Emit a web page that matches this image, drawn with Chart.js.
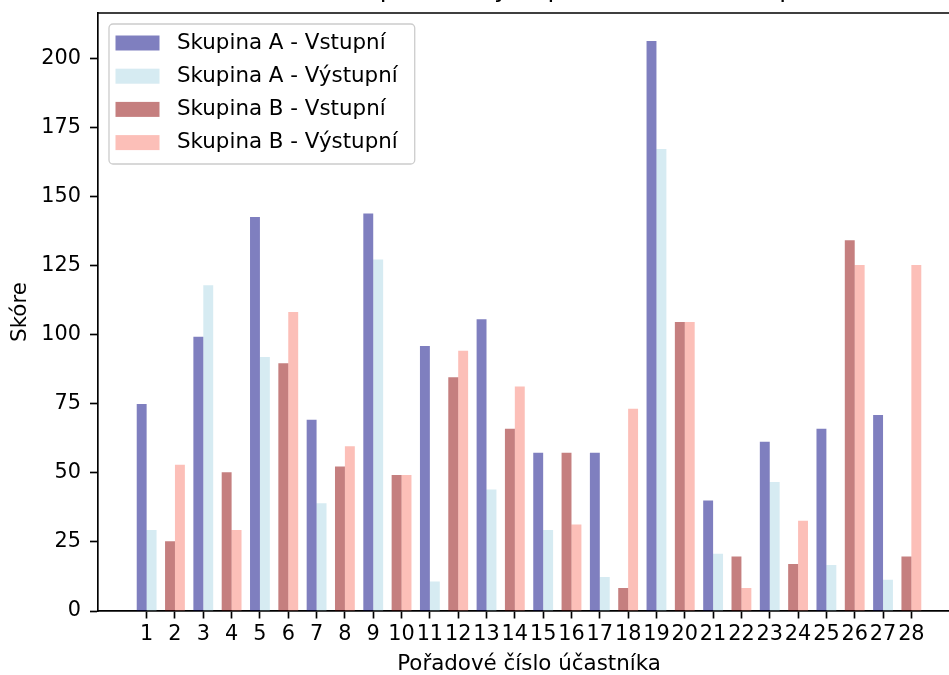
<!DOCTYPE html>
<html lang="cs">
<head>
<meta charset="utf-8" />
<title>Skóre účastníků</title>
<script src="https://cdn.jsdelivr.net/npm/chart.js@4.4.1/dist/chart.umd.min.js"></script>
<style>
  html, body { margin: 0; padding: 0; background: #fff; overflow: hidden; }
  /* figure is cropped at the top and right in the reference */
  .wrap { position: absolute; left: 0; top: -35px; width: 980px; height: 715px; }
</style>
</head>
<body>
<div class="wrap"><canvas id="chart" width="980" height="715"></canvas></div>
<script>
// participant numbers (x axis)
const participants = [1, 2, 3, 4, 5, 6, 7, 8, 9, 10, 11, 12, 13, 14,
                      15, 16, 17, 18, 19, 20, 21, 22, 23, 24, 25, 26, 27, 28];

// group A = odd participants, group B = even participants
const groupAIn  = [75, null, 99.3, null, 142.7, null, 69.3, null, 144, null, 96, null, 105.7, null,
                   57.3, null, 57.3, null, 206.5, null, 40, null, 61.3, null, 66, null, 71, null];
const groupAOut = [29.3, null, 118, null, 92, null, 39, null, 127.3, null, 10.7, null, 44, null,
                   29.3, null, 12.3, null, 167.3, null, 20.7, null, 46.7, null, 16.7, null, 11.3, null];
const groupBIn  = [null, 25.3, null, 50.3, null, 89.7, null, 52.3, null, 49.3, null, 84.7, null, 66,
                   null, 57.3, null, 8.3, null, 104.7, null, 19.7, null, 17, null, 134.3, null, 19.7];
const groupBOut = [null, 53, null, 29.3, null, 108.3, null, 59.7, null, 49.3, null, 94.3, null, 81.3,
                   null, 31.3, null, 73.3, null, 104.7, null, 8.3, null, 32.7, null, 125.3, null, 125.3];

const seriesNames = ["Skupina A - Vstupní", "Skupina A - Výstupní",
                     "Skupina B - Vstupní", "Skupina B - Výstupní"];
const yTicks = [0, 25, 50, 75, 100, 125, 150, 175, 200];

const FONT = "DejaVu Sans";
const FS = 20.8;      // tick labels
const FS_TXT = 21.4;  // legend + axis titles (matplotlib renders these a bit wider)

// top + right spine (left/bottom come from the axis borders)
const frame = {
    id: "frame",
    afterDatasetsDraw(chart) {
        const { ctx, chartArea: a } = chart;
        ctx.save();
        ctx.strokeStyle = "#000";
        ctx.lineWidth = 1.67;
        ctx.beginPath();
        ctx.moveTo(a.left, a.top);
        ctx.lineTo(a.right, a.top);
        ctx.lineTo(a.right, a.bottom);
        ctx.stroke();
        ctx.restore();
    },
};

// matplotlib-like legend box in the upper left corner of the axes
const legendBox = {
    id: "legendBox",
    afterDraw(chart) {
        const { ctx, chartArea: a, data } = chart;
        ctx.save();
        ctx.font = `${FS_TXT}px "${FONT}"`;
        const textW = Math.max(...data.datasets.map((d) => ctx.measureText(d.label).width));
        const x0 = a.left + 11.5, y0 = a.top + 11;
        const w = 68 + textW + 17, rowH = 33.2, h = 140;
        ctx.beginPath();
        ctx.roundRect(x0, y0, w, h, 4);
        ctx.fillStyle = "rgba(255,255,255,0.8)";
        ctx.fill();
        ctx.strokeStyle = "#cccccc";
        ctx.lineWidth = 1.3;
        ctx.stroke();
        data.datasets.forEach((d, i) => {
            const cy = y0 + 19 + i * rowH;
            ctx.fillStyle = d.backgroundColor;
            ctx.fillRect(x0 + 6.5, cy - 7.5, 44, 15);
            ctx.fillStyle = "#000";
            ctx.textBaseline = "middle";
            ctx.fillText(d.label, x0 + 68, cy);
        });
        ctx.restore();
    },
};

Chart.defaults.font.family = FONT;
Chart.defaults.color = "#000";

new Chart(document.getElementById("chart").getContext("2d"), {
    type: "bar",
    data: {
        labels: participants,
        datasets: [
            { label: seriesNames[0], data: groupAIn, backgroundColor: "rgba(0,0,128,0.5)" },
            { label: seriesNames[1], data: groupAOut, backgroundColor: "rgba(173,216,230,0.5)" },
            { label: seriesNames[2], data: groupBIn, backgroundColor: "rgba(139,0,0,0.5)" },
            { label: seriesNames[3], data: groupBOut, backgroundColor: "rgba(250,128,114,0.5)" },
        ],
    },
    options: {
        responsive: false,
        animation: false,
        datasets: {
            bar: { skipNull: true, categoryPercentage: 0.7, barPercentage: 1.0, borderWidth: 0 },
        },
        layout: { padding: { left: 0, right: 19.5, top: 0, bottom: 0 } },
        plugins: {
            legend: { display: false },
            tooltip: { enabled: false },
            title: {
                display: true,
                fullSize: false,
                text: "Porovnání vstupních a výstupních skóre ve skupinách",
                font: { size: 25, weight: "normal" },
                color: "#000",
                padding: { top: 10.3, bottom: 7.7 },
            },
        },
        scales: {
            x: {
                type: "linear",
                min: -0.735,
                max: 29.735,
                offset: false,
                afterBuildTicks: (axis) => {
                    axis.ticks = participants.map((v) => ({ value: v }));
                },
                afterFit: (axis) => {
                    axis.height = 715 - 48 - 598;
                },
                ticks: {
                    autoSkip: false,
                    maxRotation: 0,
                    minRotation: 0,
                    padding: 4,
                    font: { size: FS },
                    color: "#000",
                },
                grid: {
                    offset: false,
                    drawOnChartArea: false,
                    tickLength: 7.5,
                    tickWidth: 1.67,
                    tickColor: "#000",
                },
                border: { display: true, color: "#000", width: 1.67 },
                title: {
                    display: true,
                    text: "Pořadové číslo účastníka",
                    font: { size: FS_TXT },
                    color: "#000",
                    padding: { top: 0, bottom: 3 },
                },
            },
            y: {
                min: 0,
                max: 216.6,
                afterBuildTicks: (axis) => {
                    axis.ticks = yTicks.map((v) => ({ value: v }));
                },
                afterFit: (axis) => {
                    axis.width = 97.5;
                },
                ticks: {
                    padding: 9,
                    font: { size: FS },
                    color: "#000",
                },
                grid: {
                    drawOnChartArea: false,
                    tickLength: 7.5,
                    tickWidth: 1.67,
                    tickColor: "#000",
                },
                border: { display: true, color: "#000", width: 1.67 },
                title: {
                    display: true,
                    text: "Skóre",
                    font: { size: FS_TXT },
                    color: "#000",
                    padding: { top: 7.5, bottom: 0 },
                },
            },
        },
    },
    plugins: [frame, legendBox],
});
</script>
</body>
</html>
